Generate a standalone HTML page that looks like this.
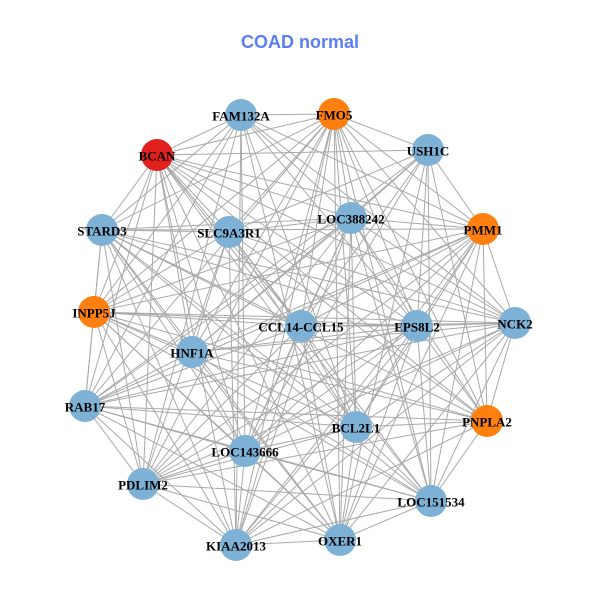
<!DOCTYPE html>
<html><head><meta charset="utf-8"><style>
html,body{margin:0;padding:0;background:#fff;}
svg{display:block;}
text.l{font-family:"Liberation Serif",serif;font-weight:bold;font-size:13px;fill:#000;text-anchor:middle;dominant-baseline:central;}
</style></head><body>
<svg id="s" width="600" height="600" viewBox="0 0 600 600">
<rect width="600" height="600" fill="#fff"/>
<text x="300" y="42" text-anchor="middle" dominant-baseline="central" font-family="Liberation Sans,sans-serif" font-weight="bold" font-size="18" fill="#5b7ff0">COAD normal</text>
<g id="edges" stroke="#a9a9a9" stroke-width="1"></g>
<g id="nodes">
<circle cx="241" cy="115" r="16" fill="#7eb1d6"/>
<circle cx="334" cy="114" r="16" fill="#ff800e"/>
<circle cx="157" cy="155" r="16" fill="#e0201c"/>
<circle cx="428" cy="150" r="16" fill="#7eb1d6"/>
<circle cx="351" cy="218" r="16" fill="#7eb1d6"/>
<circle cx="102" cy="230" r="16" fill="#7eb1d6"/>
<circle cx="229" cy="232" r="16" fill="#7eb1d6"/>
<circle cx="483" cy="229" r="16" fill="#ff800e"/>
<circle cx="94" cy="312" r="16" fill="#ff800e"/>
<circle cx="301" cy="326" r="16" fill="#7eb1d6"/>
<circle cx="417" cy="326" r="16" fill="#7eb1d6"/>
<circle cx="515" cy="323" r="16" fill="#7eb1d6"/>
<circle cx="192" cy="352" r="16" fill="#7eb1d6"/>
<circle cx="85" cy="406" r="16" fill="#7eb1d6"/>
<circle cx="356" cy="427" r="16" fill="#7eb1d6"/>
<circle cx="487" cy="421" r="16" fill="#ff800e"/>
<circle cx="245" cy="451" r="16" fill="#7eb1d6"/>
<circle cx="143" cy="484" r="16" fill="#7eb1d6"/>
<circle cx="431" cy="501" r="16" fill="#7eb1d6"/>
<circle cx="340" cy="540" r="16" fill="#7eb1d6"/>
<circle cx="236" cy="545" r="16" fill="#7eb1d6"/>
</g>
<g>
<text class="l" x="241" y="116">FAM132A</text>
<text class="l" x="334" y="115">FMO5</text>
<text class="l" x="157" y="156">BCAN</text>
<text class="l" x="428" y="151">USH1C</text>
<text class="l" x="351" y="219">LOC388242</text>
<text class="l" x="102" y="231">STARD3</text>
<text class="l" x="229" y="233">SLC9A3R1</text>
<text class="l" x="483" y="230">PMM1</text>
<text class="l" x="94" y="313">INPP5J</text>
<text class="l" x="301" y="327">CCL14-CCL15</text>
<text class="l" x="417" y="327">EPS8L2</text>
<text class="l" x="515" y="324">NCK2</text>
<text class="l" x="192" y="353">HNF1A</text>
<text class="l" x="85" y="407">RAB17</text>
<text class="l" x="356" y="428">BCL2L1</text>
<text class="l" x="487" y="422">PNPLA2</text>
<text class="l" x="245" y="452">LOC143666</text>
<text class="l" x="143" y="485">PDLIM2</text>
<text class="l" x="431" y="502">LOC151534</text>
<text class="l" x="340" y="541">OXER1</text>
<text class="l" x="236" y="546">KIAA2013</text>
</g>
</svg>
<script>
var cs=document.querySelectorAll('#nodes circle'),g=document.getElementById('edges');
var p=[].map.call(cs,function(c){return[+c.getAttribute('cx'),+c.getAttribute('cy')]});
for(var i=0;i<p.length;i++)for(var j=i+1;j<p.length;j++){
 if((i*7+j*3)%9==0)continue;
 var l=document.createElementNS('http://www.w3.org/2000/svg','line');
 l.setAttribute('x1',p[i][0]);l.setAttribute('y1',p[i][1]);l.setAttribute('x2',p[j][0]);l.setAttribute('y2',p[j][1]);
 g.appendChild(l);}
</script>
</body></html>
